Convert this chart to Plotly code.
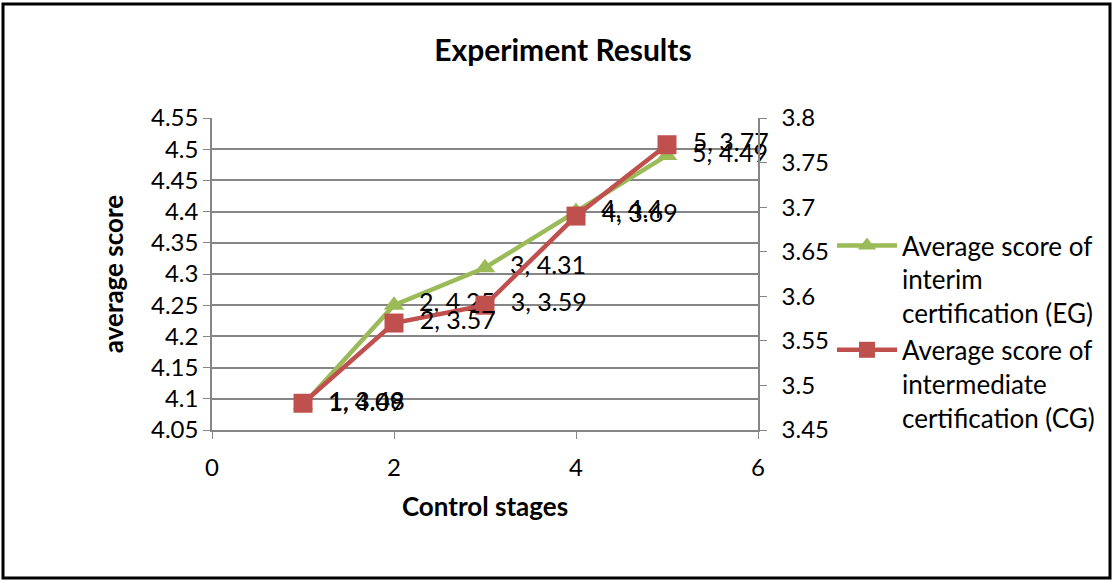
import plotly.graph_objects as go

stages = [1, 2, 3, 4, 5]
eg_scores = [4.09, 4.25, 4.31, 4.4, 4.49]
cg_scores = [3.48, 3.57, 3.59, 3.69, 3.77]
eg_name = "Average score of<br>interim<br>certification (EG)"
cg_name = "Average score of<br>intermediate<br>certification (CG)"

FONT = "Lato"
GREEN = "#9BBB59"
RED = "#C0504D"
GRID = "#868686"

def labels(xs, ys):
    return ["\u00a0\u00a0" + f"{x}, {y:g}" for x, y in zip(xs, ys)]

fig = go.Figure()
fig.add_trace(go.Scatter(
    x=stages, y=eg_scores, name=eg_name, mode="lines+markers+text",
    line=dict(color=GREEN, width=4.5),
    marker=dict(symbol="triangle-up", size=18, color=GREEN),
    text=labels(stages, eg_scores), textposition="middle right",
    textfont=dict(family=FONT, size=25, color="#000000"),
    yaxis="y", cliponaxis=False,
))
fig.add_trace(go.Scatter(
    x=stages, y=cg_scores, name=cg_name, mode="lines+markers+text",
    line=dict(color=RED, width=4.5),
    marker=dict(symbol="square", size=19, color=RED),
    text=labels(stages, cg_scores), textposition="middle right",
    textfont=dict(family=FONT, size=25, color="#000000"),
    yaxis="y2", cliponaxis=False,
))

L, R, T, B = 212, 758, 118, 430
W, H = 1113, 581
pw, ph = R - L, B - T

def px_x(p):
    return (p - L) / pw

def px_y(p):
    return (B - p) / ph

fig.update_layout(
    width=W, height=H,
    margin=dict(l=L, r=W - R, t=T, b=H - B, pad=0),
    paper_bgcolor="white", plot_bgcolor="white",
    font=dict(family=FONT, size=24, color="#000000"),
    title=dict(text="<b>Experiment Results</b>", x=px_x(563), xref="paper",
               xanchor="center", y=1 - 50 / H, yanchor="middle",
               font=dict(family=FONT, size=30)),
    xaxis=dict(range=[0, 6], tick0=0, dtick=2, showgrid=False,
               showline=True, linecolor=GRID, linewidth=1.5,
               ticks="outside", ticklen=7, tickcolor=GRID,
               zeroline=False, tickfont=dict(size=24), ticklabelstandoff=8,
               title=dict(text="<b>Control stages</b>", standoff=18,
                          font=dict(family=FONT, size=26))),
    yaxis=dict(range=[4.05, 4.55], tick0=4.05, dtick=0.05,
               showgrid=True, gridcolor=GRID, gridwidth=1.5,
               showline=True, linecolor=GRID, linewidth=1.5,
               ticks="outside", ticklen=7, tickcolor=GRID, zeroline=False,
               tickfont=dict(size=24),
               title=dict(text="<b>average score</b>", standoff=20,
                          font=dict(family=FONT, size=26))),
    yaxis2=dict(range=[3.45, 3.8], tick0=3.45, dtick=0.05, overlaying="y",
                side="right", showgrid=False,
                showline=True, linecolor=GRID, linewidth=1.5,
                ticks="outside", ticklen=7, tickcolor=GRID, zeroline=False,
                tickfont=dict(size=24), ticklabelstandoff=10),
    legend=dict(x=px_x(832), y=px_y(222), xanchor="left", yanchor="top",
                valign="top", bgcolor="rgba(0,0,0,0)",
                font=dict(family=FONT, size=26), tracegroupgap=11,
                itemwidth=60),
    showlegend=True,
    shapes=[dict(type="rect", xref="paper", yref="paper",
                 x0=px_x(3), x1=px_x(1110), y0=px_y(578), y1=px_y(4),
                 line=dict(color="#000000", width=3), layer="below")],
)

fig.write_html("out.html", config={"displayModeBar": False},
               post_script="document.body.style.margin='0';document.body.style.overflow='hidden';")
